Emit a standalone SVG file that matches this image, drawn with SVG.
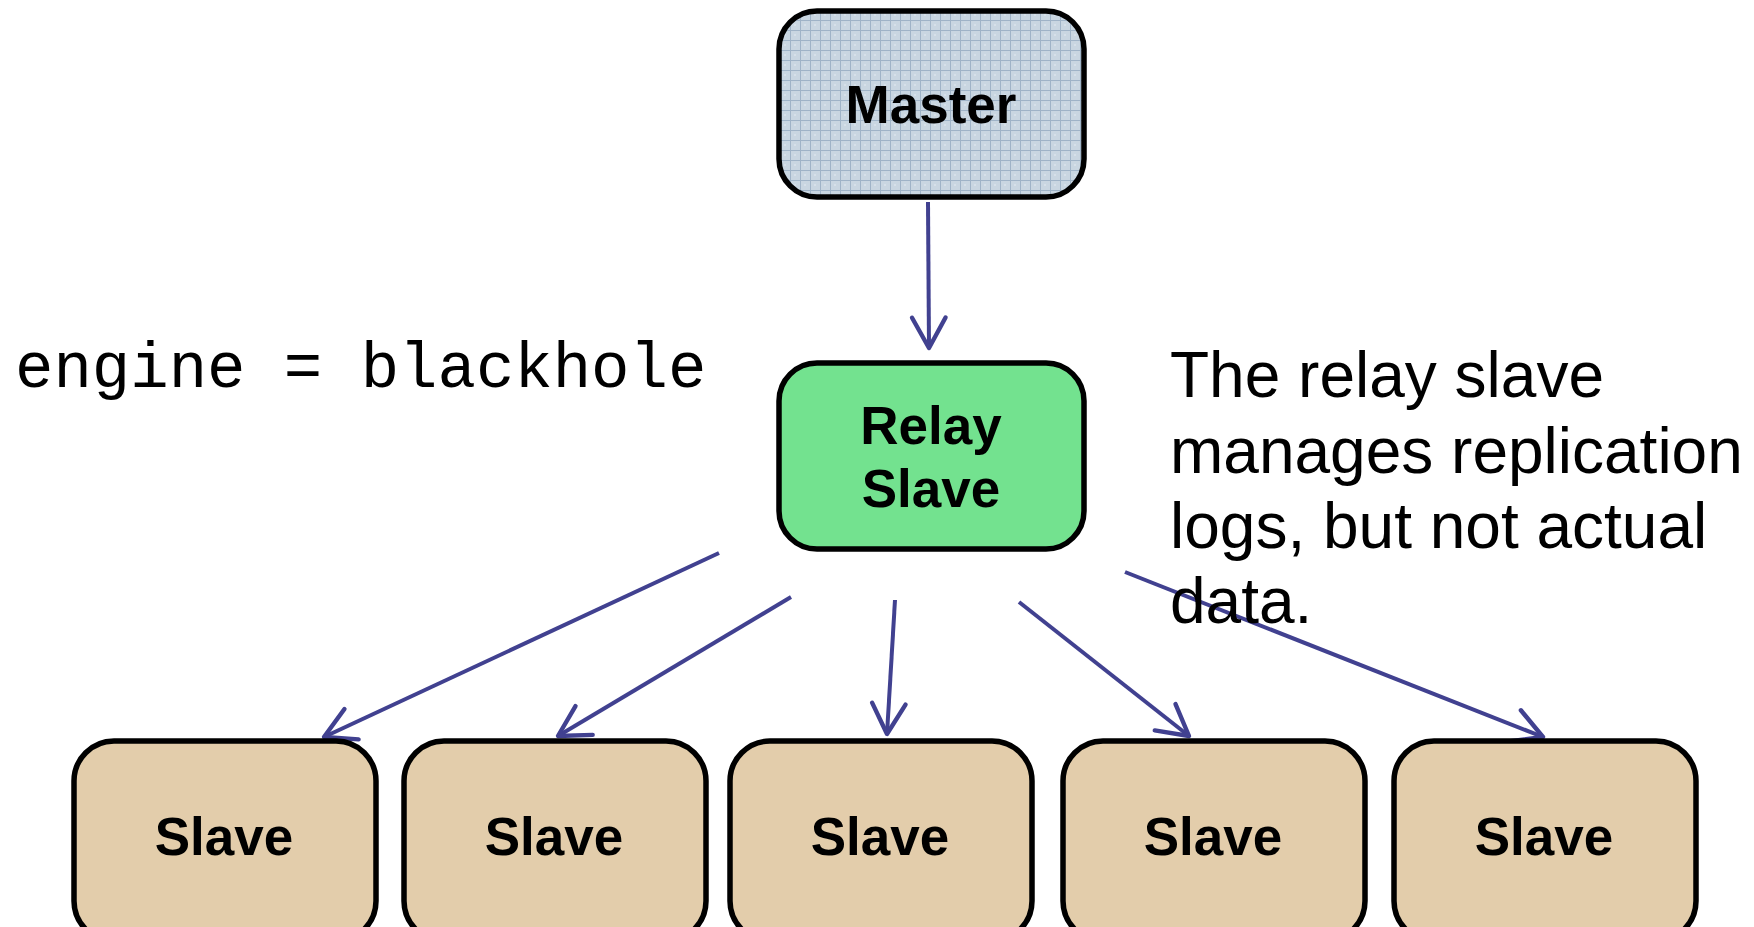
<svg xmlns="http://www.w3.org/2000/svg" width="1754" height="927" viewBox="0 0 1754 927">
<style>
.box{stroke:#000;stroke-width:5.5}
.slave{fill:#e3cdab}
.lbl{font-family:"Liberation Sans",Arial,sans-serif;font-weight:bold;font-size:53px;fill:#000;text-anchor:middle}
.note{font-family:"Liberation Sans",Arial,sans-serif;font-size:64px;fill:#000}
.code{font-family:"Liberation Mono","Courier New",monospace;font-size:64px;fill:#000}
.conn{stroke:#414190;stroke-width:4;fill:none;marker-end:url(#arr)}
</style>
<defs>
<pattern id="grid" width="10" height="10" patternUnits="userSpaceOnUse">
<rect width="10" height="10" fill="#c9d6e1"/>
<path d="M0,0.5H10M0.5,0V10" stroke="#9fb3c7" stroke-width="1"/>
<circle cx="5" cy="5" r="0.8" fill="#e8eef4"/>
</pattern>
<marker id="arr" markerUnits="userSpaceOnUse" markerWidth="44" markerHeight="44" refX="0" refY="0" viewBox="-34 -21 38 42" orient="auto">
<path d="M-29,-16 L0,0 L-29,16" fill="none" stroke="#414190" stroke-width="4.2" stroke-linejoin="round" stroke-linecap="round"/>
</marker>
</defs>
<rect width="1754" height="927" fill="#fff"/>
<g id="connectors">
<line class="conn" x1="928" y1="202" x2="929" y2="348"/>
<line class="conn" x1="719" y1="553" x2="324" y2="737"/>
<line class="conn" x1="791" y1="597" x2="558" y2="736"/>
<line class="conn" x1="895" y1="600" x2="887" y2="734"/>
<line class="conn" x1="1019" y1="602" x2="1189" y2="736"/>
<line class="conn" x1="1125" y1="572" x2="1543" y2="737"/>
</g>
<g id="master">
<rect class="box" x="779" y="11" width="305" height="186" rx="38" fill="url(#grid)"/>
<text class="lbl" x="931" y="123" font-size="54">Master</text>
</g>
<g id="relay">
<rect class="box" x="779" y="363" width="305" height="186" rx="38" fill="#73e28f"/>
<text class="lbl" x="931" y="444">Relay</text>
<text class="lbl" x="931" y="507">Slave</text>
</g>
<g id="slave1">
<rect class="box slave" x="74" y="741" width="302" height="200" rx="40"/>
<text class="lbl" x="224" y="855">Slave</text>
</g>
<g id="slave2">
<rect class="box slave" x="404" y="741" width="302" height="200" rx="40"/>
<text class="lbl" x="554" y="855">Slave</text>
</g>
<g id="slave3">
<rect class="box slave" x="730" y="741" width="302" height="200" rx="40"/>
<text class="lbl" x="880" y="855">Slave</text>
</g>
<g id="slave4">
<rect class="box slave" x="1063" y="741" width="302" height="200" rx="40"/>
<text class="lbl" x="1213" y="855">Slave</text>
</g>
<g id="slave5">
<rect class="box slave" x="1394" y="741" width="302" height="200" rx="40"/>
<text class="lbl" x="1544" y="855">Slave</text>
</g>
<g id="engine-note">
<text class="code" x="15" y="387">engine = blackhole</text>
</g>
<g id="relay-note">
<text class="note" x="1170" y="397">The relay slave</text>
<text class="note" x="1170" y="473">manages replication</text>
<text class="note" x="1170" y="548">logs, but not actual</text>
<text class="note" x="1170" y="623">data.</text>
</g>
</svg>
